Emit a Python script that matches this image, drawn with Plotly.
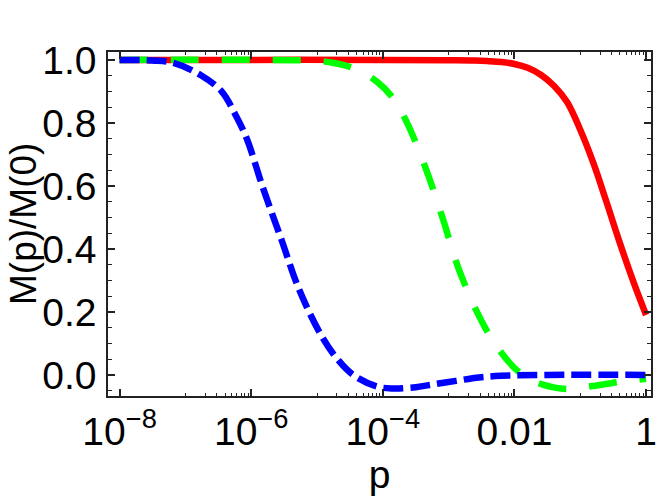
import plotly.graph_objects as go

# ---- data ----
red_p = [1e-8, 1e-6, 1e-4, 1e-3, 10**-2.6, 10**-2.4, 10**-2.2, 1e-2, 10**-1.8, 10**-1.6,
         10**-1.4, 10**-1.2, 1e-1, 10**-0.8, 10**-0.6, 10**-0.4, 10**-0.2, 1.0]
red_y = [1.0, 1.0, 1.0, 0.999, 0.998, 0.996, 0.993, 0.987, 0.975, 0.953,
         0.918, 0.866, 0.778, 0.672, 0.548, 0.42, 0.30, 0.19]

green_p = [1e-8, 1e-6, 1e-5, 10**-4.74, 10**-4.4, 10**-4.09, 10**-3.85, 10**-3.64, 10**-3.34,
           10**-3.09, 10**-2.86, 10**-2.56, 10**-2.3, 1e-2, 10**-1.8, 10**-1.58, 10**-1.2,
           10**-0.81, 10**-0.4, 1.0]
green_y = [1.0, 1.0, 0.997, 0.99, 0.97, 0.931, 0.88, 0.804, 0.651,
           0.497, 0.344, 0.196, 0.10, 0.022, -0.01, -0.03, -0.045,
           -0.035, -0.022, -0.012]

blue_p = [1e-8, 10**-7.5, 10**-7.17, 10**-6.77, 10**-6.45, 10**-6.25, 10**-6.07, 10**-5.82,
          10**-5.54, 10**-5.27, 10**-4.94, 10**-4.72, 10**-4.45, 10**-4.09, 10**-3.85,
          10**-3.5, 10**-3.29, 10**-2.89, 10**-2.54, 10**-2.2, 10**-1.5, 1.0]
blue_y = [1.0, 0.998, 0.99, 0.952, 0.90, 0.83, 0.751, 0.593,
          0.429, 0.27, 0.127, 0.058, 0.0, -0.037, -0.043,
          -0.039, -0.032, -0.019, -0.008, -0.003, 0.0, 0.0]

x_tickvals = [1e-8, 1e-6, 1e-4, 1e-2, 1]
x_ticktext = ["10<sup>\u22128</sup>", "10<sup>\u22126</sup>", "10<sup>\u22124</sup>", "0.01", "1"]
x_minor = [k * 10.0**e for e in (-7, -5, -3, -1) for k in range(1, 10)]

y_tickvals = [0.0, 0.2, 0.4, 0.6, 0.8, 1.0]
y_ticktext = ["0.0", "0.2", "0.4", "0.6", "0.8", "1.0"]

x_title = "p"
y_title = "M(p)/M(0)"

FONT = "Liberation Sans, Arial, sans-serif"
FRAME = "#222222"

fig = go.Figure()
fig.add_trace(go.Scatter(x=red_p, y=red_y, mode="lines",
                         line=dict(color="#FF0000", width=6.5, shape="spline", smoothing=1.0)))
fig.add_trace(go.Scatter(x=green_p, y=green_y, mode="lines",
                         line=dict(color="#00FF00", width=6.5, dash="28px,23px", shape="spline", smoothing=1.0)))
fig.add_trace(go.Scatter(x=blue_p, y=blue_y, mode="lines",
                         line=dict(color="#0000FF", width=6.5, dash="20px,7px", shape="spline", smoothing=1.0)))

# the page body adds an 8px offset, so the figure is sized/margined to compensate
fig.update_layout(
    width=656, height=493,
    margin=dict(l=100, r=7, t=44, b=105),
    paper_bgcolor="white", plot_bgcolor="white",
    showlegend=False,
    font=dict(family=FONT, color="black"),
    annotations=[dict(text=y_title, textangle=-90, xref="paper", yref="paper",
                      x=-0.1566, y=0.5, xanchor="center", yanchor="middle",
                      showarrow=False, borderpad=0,
                      font=dict(size=37, family=FONT, color="black"))],
)
fig.update_xaxes(
    type="log", range=[-8.176, 0.075],
    tickmode="array", tickvals=x_tickvals, ticktext=x_ticktext,
    tickfont=dict(size=39, family=FONT, color="black"),
    ticks="inside", ticklen=7, tickwidth=1.5, tickcolor=FRAME,
    showline=True, linecolor=FRAME, linewidth=1.5, mirror="ticks",
    showgrid=False, zeroline=False,
    minor=dict(tickmode="array", tickvals=x_minor, ticks="inside", ticklen=3.5,
               tickwidth=1, tickcolor=FRAME, showgrid=False),
    title=dict(text=x_title, font=dict(size=39, family=FONT, color="black"), standoff=6),
)
fig.update_yaxes(
    range=[-0.067, 1.025],
    tickmode="array", tickvals=y_tickvals, ticktext=y_ticktext,
    tickfont=dict(size=39, family=FONT, color="black"),
    ticks="inside", ticklen=7, tickwidth=1.5, tickcolor=FRAME,
    showline=True, linecolor=FRAME, linewidth=1.5, mirror="ticks",
    showgrid=False, zeroline=False, ticklabelstandoff=2,
    minor=dict(tick0=0, dtick=0.05, ticks="inside", ticklen=4,
               tickwidth=1, tickcolor=FRAME, showgrid=False),
)

fig.write_html("out.html")
